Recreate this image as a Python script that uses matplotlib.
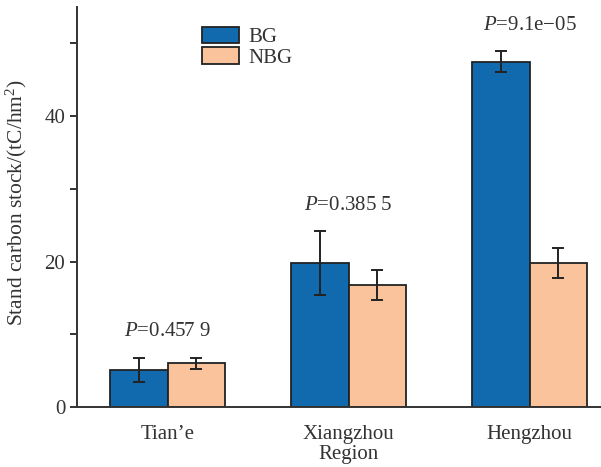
import numpy as np
import matplotlib
matplotlib.use('Agg')
import matplotlib.pyplot as plt

plt.rcParams['font.family'] = ['Liberation Serif', 'DejaVu Serif']
plt.rcParams['mathtext.fontset'] = 'custom'
plt.rcParams['mathtext.rm'] = 'Liberation Serif'
plt.rcParams['mathtext.it'] = 'Liberation Serif:italic'

# data
regions = ['Tian\u2019e', 'Xiangzhou', 'Hengzhou']
bg_mean = [5.1, 19.75, 47.45]
bg_err = [1.65, 4.4, 1.45]
nbg_mean = [6.0, 16.8, 19.75]
nbg_err = [0.8, 2.1, 2.05]
p_labels = ['$P$=0.457 9', '$P$=0.385 5', '$P$=9.1e\u221205']

blue = '#126AAE'
peach = '#FAC39C'
edge = '#222222'
txt = '#333333'

W, H = 601, 467
fig = plt.figure(figsize=(W / 100, H / 100), dpi=100)
ax = fig.add_axes([77 / W, 1 - 407 / H, 543 / W, 400 / H])

x = np.arange(len(regions))
w = 0.32
ekw = dict(ecolor=edge, elinewidth=1.4, capsize=4, capthick=1.4)
ax.bar(x - w / 2, bg_mean, w, yerr=bg_err, color=blue, edgecolor=edge,
       linewidth=1.3, label='BG', error_kw=ekw)
ax.bar(x + w / 2, nbg_mean, w, yerr=nbg_err, color=peach, edgecolor=edge,
       linewidth=1.3, label='NBG', error_kw=ekw)

# P-values above each group
for i, lab in enumerate(p_labels):
    top = max(bg_mean[i] + bg_err[i], nbg_mean[i] + nbg_err[i])
    ax.text(x[i], top + 3.6, lab, ha='center', va='center', fontsize=15,
            color=txt)

ax.set_xlim(-0.5, 2.5)
ax.set_ylim(0, 55)
ax.set_yticks([0, 20, 40])
ax.set_yticks([10, 30, 50], minor=True)
ax.set_xticks(x)
ax.set_xticklabels(regions)
ax.tick_params(axis='x', length=0, pad=13, labelsize=15, labelcolor=txt)
ax.tick_params(axis='y', which='both', direction='out', length=5, width=1.4,
               color=txt, labelsize=15, labelcolor=txt)
ax.set_xlabel('Region', fontsize=15, color=txt, labelpad=1)
ax.set_ylabel('Stand carbon stock/(tC/hm$^2$)', fontsize=15.5, color=txt)
ax.yaxis.set_label_coords(-48 / 543, 0.51)

for s in ['top', 'right']:
    ax.spines[s].set_visible(False)
for s in ['left', 'bottom']:
    ax.spines[s].set_linewidth(1.4)
    ax.spines[s].set_color(txt)

leg = ax.legend(loc='upper left', bbox_to_anchor=(188 / W, 1 - 13 / H),
                bbox_transform=fig.transFigure, frameon=False, fontsize=15,
                handlelength=1.8, handleheight=0.85, labelspacing=0.0,
                handletextpad=0.45, borderpad=0.15)
for t in leg.get_texts():
    t.set_color(txt)

fig.savefig('out.png', dpi=100)
